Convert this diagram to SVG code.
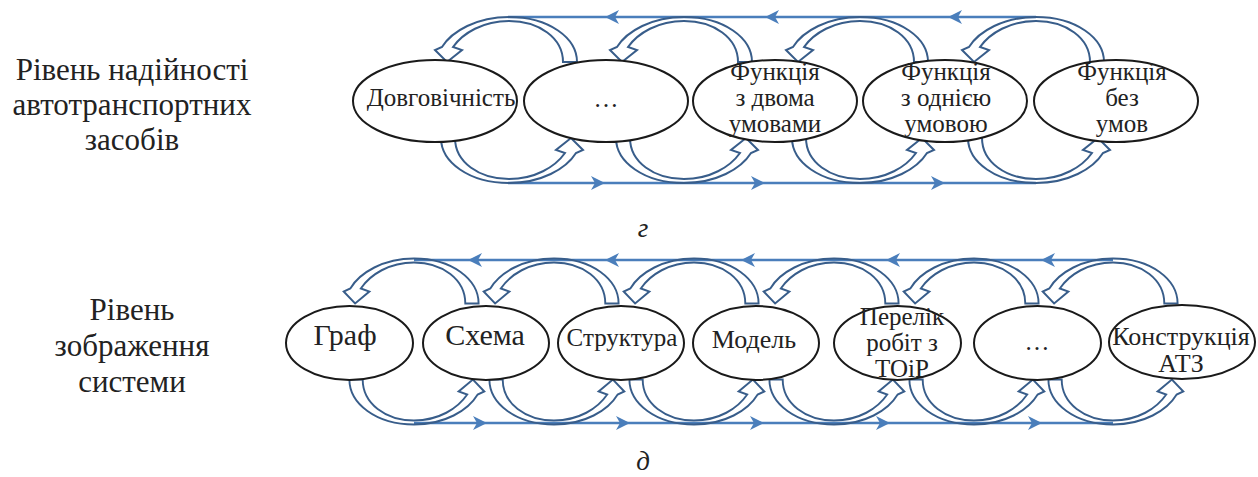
<svg xmlns="http://www.w3.org/2000/svg" width="1258" height="477" viewBox="0 0 1258 477">
<style>
.ell{fill:#fff;stroke:#1a1a1a;stroke-width:2}
text{font-family:"Liberation Serif","DejaVu Serif","Times New Roman",Times,serif;fill:#222;text-anchor:middle}
.lab{font-size:31px}
.n{font-size:25px}
.arc{fill:none;stroke:#385D8A;stroke-width:2;stroke-linejoin:miter}
.ln{fill:none;stroke:#4A7EBB;stroke-width:2.5;marker-mid:url(#ah)}
.cap{font-style:italic;font-size:27px}
</style>
<defs>
<marker id="ah" markerUnits="userSpaceOnUse" markerWidth="20" markerHeight="20" refX="0" refY="0" viewBox="-16 -10 20 20" orient="auto">
<path d="M2,0 L-12,-7 L-8,0 L-12,7 Z" fill="#4A7EBB"/>
</marker>
<path id="ca" d="M68,-38 C68,-62 40,-83 0,-83 C-32,-83 -57,-69 -67,-53 L-74,-50 L-62,-38 L-47,-50 L-56,-53 C-46,-67 -26,-79 0,-79 C30,-79 54,-62 54,-38 Z"/>
</defs>
<g id="labels">
<text class="lab" x="132" y="80">Рівень надійності</text>
<text class="lab" x="132" y="115">автотранспортних</text>
<text class="lab" x="132" y="150">засобів</text>
<text class="lab" x="132" y="320">Рівень</text>
<text class="lab" x="132" y="356">зображення</text>
<text class="lab" x="132" y="392">системи</text>
</g>
<g id="connectors">
<path class="ln" d="M1036,17 L950,17 L767,17 L607,17 L508,17"/>
<path class="ln" d="M508,183 L603,183 L763,183 L943,183 L1036,183"/>
<path class="ln" d="M1113,260 L1043,260 L888,260 L743,260 L607,260 L470,260 L414,260"/>
<path class="ln" d="M414,423 L485,423 L628,423 L762,423 L888,423 L1040,423 L1113,423"/>
<g class="arc">
<use href="#ca" transform="translate(509,100)"/>
<use href="#ca" transform="translate(684,100)"/>
<use href="#ca" transform="translate(860,100)"/>
<use href="#ca" transform="translate(1036,100)"/>
<use href="#ca" transform="translate(509,100) rotate(180)"/>
<use href="#ca" transform="translate(684,100) rotate(180)"/>
<use href="#ca" transform="translate(860,100) rotate(180)"/>
<use href="#ca" transform="translate(1036,100) rotate(180)"/>
<use href="#ca" transform="translate(414,341.5) scale(0.95,1)"/>
<use href="#ca" transform="translate(554,341.5) scale(0.95,1)"/>
<use href="#ca" transform="translate(694,341.5) scale(0.95,1)"/>
<use href="#ca" transform="translate(834,341.5) scale(0.95,1)"/>
<use href="#ca" transform="translate(974,341.5) scale(0.95,1)"/>
<use href="#ca" transform="translate(1113,341.5) scale(0.95,1)"/>
<use href="#ca" transform="translate(414,341.5) rotate(180) scale(0.95,1)"/>
<use href="#ca" transform="translate(554,341.5) rotate(180) scale(0.95,1)"/>
<use href="#ca" transform="translate(694,341.5) rotate(180) scale(0.95,1)"/>
<use href="#ca" transform="translate(834,341.5) rotate(180) scale(0.95,1)"/>
<use href="#ca" transform="translate(974,341.5) rotate(180) scale(0.95,1)"/>
<use href="#ca" transform="translate(1113,341.5) rotate(180) scale(0.95,1)"/>
</g>
</g>
<g id="n1"><ellipse class="ell" cx="435" cy="101" rx="82" ry="41"/><text class="n" x="441" y="106">Довговічність</text></g>
<g id="n2"><ellipse class="ell" cx="606" cy="101" rx="82" ry="41"/><text class="n" x="606" y="107">…</text></g>
<g id="n3"><ellipse class="ell" cx="775" cy="101" rx="82" ry="41"/><text class="n"><tspan x="775" y="80">Функція</tspan><tspan x="775" y="106">з двома</tspan><tspan x="775" y="132">умовами</tspan></text></g>
<g id="n4"><ellipse class="ell" cx="945" cy="101" rx="82" ry="41"/><text class="n"><tspan x="946" y="80">Функція</tspan><tspan x="946" y="106">з однією</tspan><tspan x="946" y="132">умовою</tspan></text></g>
<g id="n5"><ellipse class="ell" cx="1116" cy="101" rx="82" ry="41"/><text class="n"><tspan x="1122" y="80">Функція</tspan><tspan x="1122" y="106">без</tspan><tspan x="1122" y="132">умов</tspan></text></g>
<text class="cap" x="643" y="237">г</text>
<g id="m1"><ellipse class="ell" cx="349.5" cy="343" rx="63.5" ry="37"/><text style="font-size:30px" x="345" y="345">Граф</text></g>
<g id="m2"><ellipse class="ell" cx="486" cy="343" rx="63" ry="37"/><text style="font-size:30px" x="485" y="345">Схема</text></g>
<g id="m3"><ellipse class="ell" cx="621" cy="343" rx="63" ry="37"/><text style="font-size:25px" x="622" y="346">Структура</text></g>
<g id="m4"><ellipse class="ell" cx="756" cy="343" rx="63" ry="37"/><text style="font-size:26px" x="754" y="348">Модель</text></g>
<g id="m5"><ellipse class="ell" cx="897.5" cy="343" rx="63.5" ry="37"/><text style="font-size:25px"><tspan x="902" y="325">Перелік</tspan><tspan x="902" y="351">робіт з</tspan><tspan x="902" y="377">ТОіР</tspan></text></g>
<g id="m6"><ellipse class="ell" cx="1037.5" cy="343" rx="63.5" ry="37"/><text class="n" x="1037" y="350">…</text></g>
<g id="m7"><ellipse class="ell" cx="1182" cy="342" rx="73" ry="37"/><text style="font-size:26px"><tspan x="1181" y="345">Конструкція</tspan><tspan x="1181" y="372">АТЗ</tspan></text></g>
<text class="cap" x="643" y="470">д</text>
</svg>
